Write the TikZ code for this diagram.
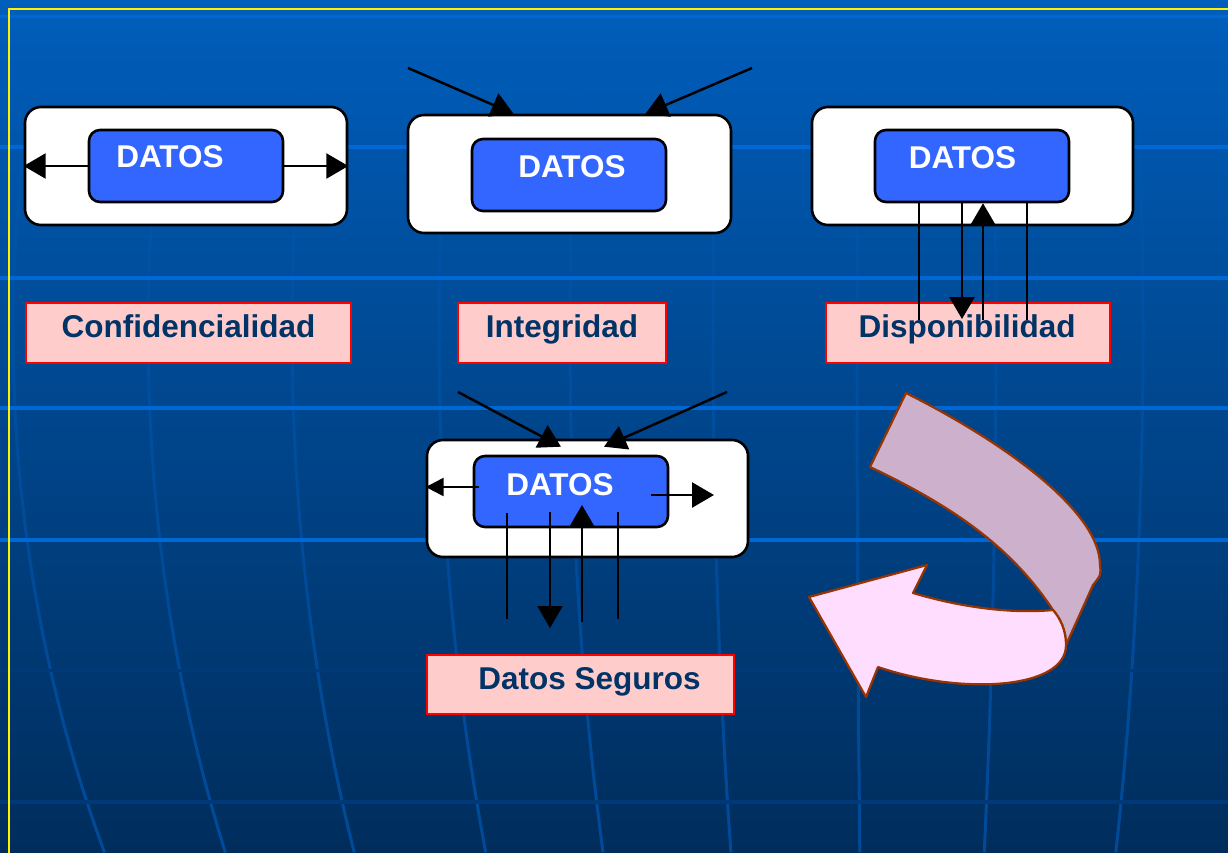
\documentclass[tikz,border=0pt]{standalone}
\usepackage{fontspec}
\setmainfont{Liberation Sans}
\usetikzlibrary{arrows.meta,fadings}

\definecolor{bgtop}{RGB}{0,94,188}
\definecolor{bgbot}{RGB}{0,45,92}
\definecolor{gridbright}{RGB}{0,104,212}
\definecolor{griddark}{RGB}{0,56,120}
\definecolor{meridianc}{RGB}{0,100,205}
\definecolor{datosblue}{RGB}{51,102,255}
\definecolor{labelpink}{RGB}{255,204,204}
\definecolor{labelnavy}{RGB}{0,51,102}
\definecolor{ribbonback}{RGB}{204,176,204}
\definecolor{ribbonfront}{RGB}{255,221,255}
\definecolor{ribbonedge}{RGB}{153,51,0}

\begin{document}
\begin{tikzpicture}[x=1pt,y=-1pt,
  outerbox/.style={draw=black, line width=2.6pt, fill=white, rounded corners=16pt, inner sep=0pt},
  innerbox/.style={draw=black, line width=2.6pt, fill=datosblue, rounded corners=11pt, inner sep=0pt},
  labelbox/.style={draw=red, line width=2.8pt, fill=labelpink, inner sep=0pt},
  datostxt/.style={text=white, font=\fontsize{31.5}{31.5}\selectfont\bfseries, anchor=base, inner sep=0pt},
  labeltxt/.style={text=labelnavy, font=\fontsize{31.5}{31.5}\selectfont\bfseries, anchor=base, inner sep=0pt},
  arr/.style={draw=black, line width=2.5pt, -{Triangle[length=22pt,width=25pt]}},
  smallarr/.style={draw=black, line width=2.5pt, -{Triangle[length=18pt,width=18pt]}},
  wire/.style={draw=black, line width=2.5pt},
  meridian/.style={draw=meridianc, draw opacity=0.55, line width=3pt, path fading=north},
  ribbon/.style={draw=ribbonedge, line width=2.2pt, line join=round}]

\useasboundingbox (0,0) rectangle (1228,852);
\clip (0,0) rectangle (1228,852);

% background
\shade[top color=bgtop, bottom color=bgbot] (0,0) rectangle (1228,852);
\foreach \m in {13,148,292,439,570,713,857,996,1143}
  \draw[meridian] plot[domain=0:852,samples=40,variable=\t]
    ({884+(\m-884)*sqrt(1-((\t-330)/1170)^2)},\t);
\draw[gridbright, line width=3pt] (0,16) -- (1228,16);
\foreach \yy in {147,278,408,540}
  \draw[gridbright, line width=4pt] (0,\yy) -- (1228,\yy);
\draw[griddark, line width=3pt] (0,670) -- (1228,670);
\draw[griddark, line width=4pt] (0,802) -- (1228,802);
\draw[yellow, line width=2.8pt] (1240,9) -- (9,9) -- (9,870);

% Confidencialidad
\node[outerbox, minimum width=322pt, minimum height=118pt] (o1) at (186,166) {};
\node[innerbox, minimum width=194pt, minimum height=72pt] (i1) at (186,166) {};
\node[datostxt] (t1) at (170,167) {DATOS};
\draw[arr] (i1.west) -- (o1.west);
\draw[arr] (i1.east) -- (o1.east);
\node[labelbox, minimum width=325pt, minimum height=60pt] (l1) at (188.5,333) {};
\node[labeltxt] (lt1) at (188.5,337) {Confidencialidad};

% Integridad
\node[outerbox, minimum width=323pt, minimum height=118pt] (o2) at (569.5,174) {};
\node[innerbox, minimum width=194pt, minimum height=72pt] (i2) at (569,175) {};
\node[datostxt] (t2) at (572,177) {DATOS};
\coordinate (s2l) at (408,68);
\coordinate (s2r) at (752,68);
\draw[arr] (s2l) -- ([xshift=-56pt]o2.north);
\draw[arr] (s2r) -- ([xshift=76pt]o2.north);
\node[labelbox, minimum width=208pt, minimum height=60pt] (l2) at (562,333) {};
\node[labeltxt] (lt2) at (562,337) {Integridad};

% Disponibilidad
\node[outerbox, minimum width=321pt, minimum height=118pt] (o3) at (972.5,166) {};
\node[innerbox, minimum width=194pt, minimum height=72pt] (i3) at (972,166) {};
\node[datostxt] (t3) at (962.5,168) {DATOS};
\node[labelbox, minimum width=284pt, minimum height=60pt] (l3) at (968,333) {};
\node[labeltxt] (lt3) at (967,337) {Disponibilidad};
\coordinate (e3a) at (919,320);
\coordinate (e3b) at (962,319);
\coordinate (e3c) at (983,320);
\coordinate (e3d) at (1027,320);
\draw[wire] (e3a |- i3.south) -- (e3a);
\draw[arr] (e3b |- i3.south) -- (e3b);
\draw[arr] (e3c) -- (e3c |- i3.south);
\draw[wire] (e3d |- i3.south) -- (e3d);

% Datos Seguros
\node[outerbox, minimum width=321pt, minimum height=117pt] (o4) at (587.5,498.5) {};
\node[innerbox, minimum width=194pt, minimum height=71pt] (i4) at (571,491.5) {};
\node[datostxt] (t4) at (560,495) {DATOS};
\coordinate (s4l) at (458,392);
\coordinate (s4r) at (727,392);
\draw[arr] (s4l) -- ([xshift=-26.5pt,yshift=-8pt]o4.north);
\draw[arr] (s4r) -- ([xshift=16.5pt,yshift=-8pt]o4.north);
\coordinate (w4a) at (479,487);
\draw[smallarr] (w4a) -- (o4.west |- w4a);
\coordinate (r4a) at (651,495);
\coordinate (r4b) at (714,495);
\draw[arr] (r4a) -- (r4b);
\coordinate (v4a) at (507,513);  \coordinate (v4A) at (507,619);
\coordinate (v4b) at (550,512);  \coordinate (v4B) at (550,628);
\coordinate (v4c) at (582,622);  \coordinate (v4C) at (582,505);
\coordinate (v4d) at (618,512);  \coordinate (v4D) at (618,619);
\draw[wire] (v4a) -- (v4A);
\draw[arr] (v4b) -- (v4B);
\draw[arr] (v4c) -- (v4C);
\draw[wire] (v4d) -- (v4D);
\node[labelbox, minimum width=307pt, minimum height=59pt] (l4) at (580.5,684.5) {};
\node[labeltxt] (lt4) at (589.5,689) {Datos Seguros};

% curved ribbon arrow: back fold, then front with the head
\draw[ribbon, fill=ribbonback] (906,393)
  .. controls (1000,440) and (1100,510) .. (1100,565)
  .. controls (1101,575) .. (1093,585)
  -- (1066,645)
  .. controls (1066,630) and (1060,618) .. (1053,610)
  .. controls (1010,545) and (950,505) .. (870,467)
  -- cycle;
\draw[ribbon, fill=ribbonfront] (913,593)
  .. controls (960,607) and (1010,614) .. (1053,610)
  .. controls (1060,618) and (1066,630) .. (1066,645)
  .. controls (1066,690) and (960,695) .. (878,667)
  -- (866,697) -- (809,597) -- (927,565) -- cycle;

\end{tikzpicture}
\end{document}
